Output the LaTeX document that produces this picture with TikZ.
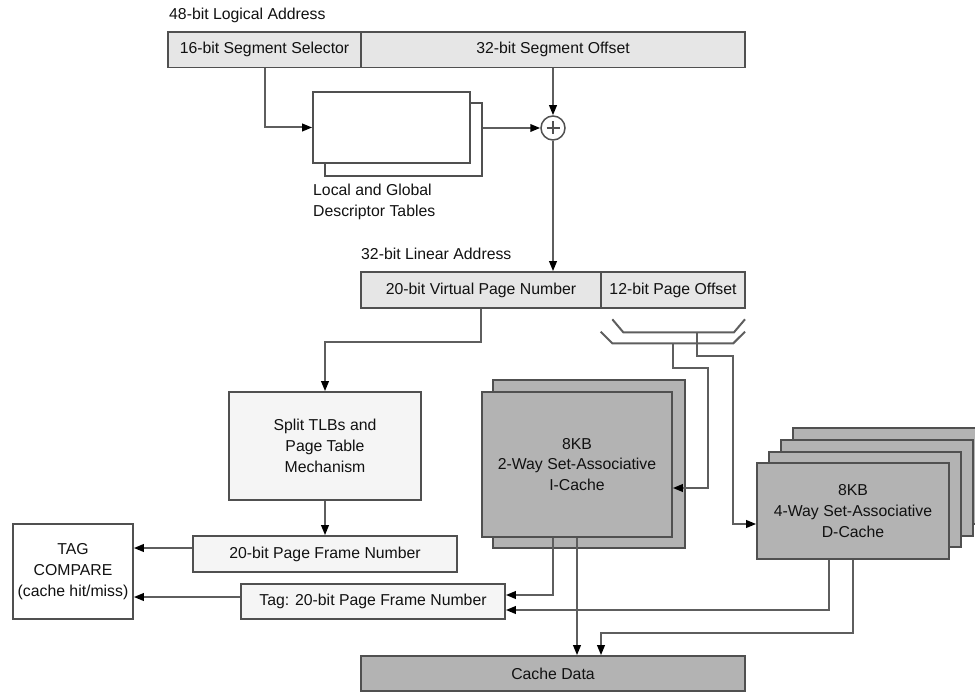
\documentclass[tikz,border=0pt]{standalone}
\usepackage{fontspec}
\setmainfont{Liberation Sans}
\usetikzlibrary{arrows.meta,calc}

\definecolor{edge}{HTML}{505050}
\definecolor{wire}{HTML}{5E5E5E}
\definecolor{bar}{HTML}{E6E6E6}
\definecolor{pale}{HTML}{F5F5F5}
\definecolor{cache}{HTML}{B3B3B3}
\definecolor{ink}{HTML}{111111}

\tikzset{
  % a box given by its corners in the 975 x 692 grid
  box/.style={draw=edge, line width=1.6pt, inner sep=0pt, text=ink,
    align=center, font=\fontsize{15.8}{20.7}\selectfont},
  field/.style={box, fill=bar},
  lightbox/.style={box, fill=pale},
  whitebox/.style={box, fill=white},
  cachebox/.style={box, fill=cache},
  label/.style={inner sep=0pt, text=ink, align=left,
    font=\fontsize{15.8}{20.7}\selectfont},
  wireline/.style={draw=wire, line width=2pt},
  arr/.style={wireline, -{Triangle[length=10pt,width=7.5pt,color=black]}},
}

% place a rectangular node from its corners: name, x1, y1, x2, y2, style, text
\newcommand{\rectnode}[7]{%
  \node[#6, minimum width={(#4)-(#2)}, minimum height={(#5)-(#3)}]
    (#1) at ({((#2)+(#4))/2},{((#3)+(#5))/2}) {#7};}

\begin{document}
\begin{tikzpicture}[x=1pt,y=-1pt]
\useasboundingbox (0,0) rectangle (975,692);
\clip (0,0) rectangle (975,692);

% ---- 48-bit logical address ----
\node[label, anchor=west] (lalabel) at (169,15) {48-bit Logical Address};
\rectnode{sel}{168}{32}{361}{67.5}{field}{16-bit Segment Selector}
\rectnode{off}{361}{32}{745}{67.5}{field}{32-bit Segment Offset}

% ---- descriptor tables (two stacked sheets) ----
\rectnode{dtb}{325}{103}{482}{176}{whitebox}{}
\rectnode{dtf}{313}{92}{470}{163}{whitebox}{}
\node[label, anchor=north west] (dtlabel) at (313,184)
  {Local and Global\\Descriptor Tables};

% ---- adder ----
\node[draw=edge, line width=1.5pt, fill=white, circle, minimum size=24pt,
  inner sep=0pt] (sum) at (553,128) {};
\draw[edge, line width=1.2pt] ($(sum.center)+(-6.5,0)$) -- ($(sum.center)+(6.5,0)$)
  ($(sum.center)+(0,-6.5)$) -- ($(sum.center)+(0,6.5)$);

\draw[arr] (sel.south) |- (dtf.west);
\draw[arr] (off.south) -- (sum.north);
\draw[arr] (dtb.east |- sum.west) -- (sum.west);

% ---- 32-bit linear address ----
\node[label, anchor=west] (lnlabel) at (361,254) {32-bit Linear Address};
\rectnode{vpn}{361}{272}{601}{308}{field}{20-bit Virtual Page Number}
\rectnode{pgo}{601}{272}{745}{308}{field}{12-bit Page Offset}
\draw[arr] (sum.south) -- (sum.south |- vpn.north);

% ---- index buses under the page offset ----
\coordinate (ua) at (612.3,319.3);
\coordinate (ub) at (623.3,332.3);
\coordinate (uc) at (734,332.3);
\coordinate (ud) at (745,319.3);
\coordinate (la) at (600.7,331.7);
\coordinate (lb) at (612.3,343.3);
\coordinate (lc) at (733.3,343.3);
\coordinate (ld) at (745,331.7);
\draw[wireline] (ua) -- (ub) -- (uc) -- (ud);
\draw[wireline] (la) -- (lb) -- (lc) -- (ld);
\coordinate (itap) at (672.7,343.3);
\coordinate (dtap) at (696.7,332.3);

% ---- TLB / page table ----
\rectnode{tlb}{229}{392}{421}{500}{lightbox}{Split TLBs and\\Page Table\\Mechanism}
\draw[arr] (vpn.south) -- ++(0,33) -| (tlb.north);

\rectnode{pfn}{193}{536}{457}{572}{lightbox}{20-bit Page Frame Number}
\draw[arr] (tlb.south) -- (pfn.north);

\rectnode{tagc}{13}{524}{133}{619}{whitebox}{TAG\\COMPARE\\(cache hit/miss)}
\rectnode{tag}{241}{584}{505}{619}{lightbox}{Tag: 20-bit Page Frame Number}

% ---- I-cache (two ways) ----
\rectnode{icb}{493}{380}{685}{548}{cachebox}{}
\rectnode{icf}{482}{392}{672}{537}{cachebox}{8KB\\2-Way Set-Associative\\I-Cache}

% ---- D-cache (four ways) ----
\rectnode{dc4}{793}{428}{985}{524}{cachebox}{}
\rectnode{dc3}{781}{440}{973}{536}{cachebox}{}
\rectnode{dc2}{769}{452}{961}{547}{cachebox}{}
\rectnode{dcf}{757}{463}{949}{559}{cachebox}{8KB\\4-Way Set-Associative\\D-Cache}

% ---- cache data ----
\rectnode{cd}{361}{656}{745}{691}{cachebox}{Cache Data}

% index lines into the caches
\draw[arr] (itap) -- ++(0,24.7) -| ++(35.3,0) |- ([yshift=-23.5pt]icf.east);
\draw[arr] (dtap) -- ++(0,23.4) -| ++(36.3,0) |- ([yshift=-13pt]dcf.west);

% tags out to the compare logic
\draw[arr] ([xshift=-24pt]icf.south) |- ([yshift=6.5pt]tag.east);
\draw[arr] ([xshift=-24pt]dcf.south) |- ([yshift=-8.5pt]tag.east);
\draw[arr] ([yshift=6pt]pfn.west) -- ([yshift=6pt]pfn.west -| tagc.east);
\draw[arr] ([yshift=4.5pt]tag.west) -- ([yshift=4.5pt]tag.west -| tagc.east);

% data out of both caches
\draw[arr] (icf.south) -- (icf.south |- cd.north);
\draw[arr] (dcf.south) -- ++(0,72.7) -| ([xshift=48pt]cd.north);
\end{tikzpicture}
\end{document}
